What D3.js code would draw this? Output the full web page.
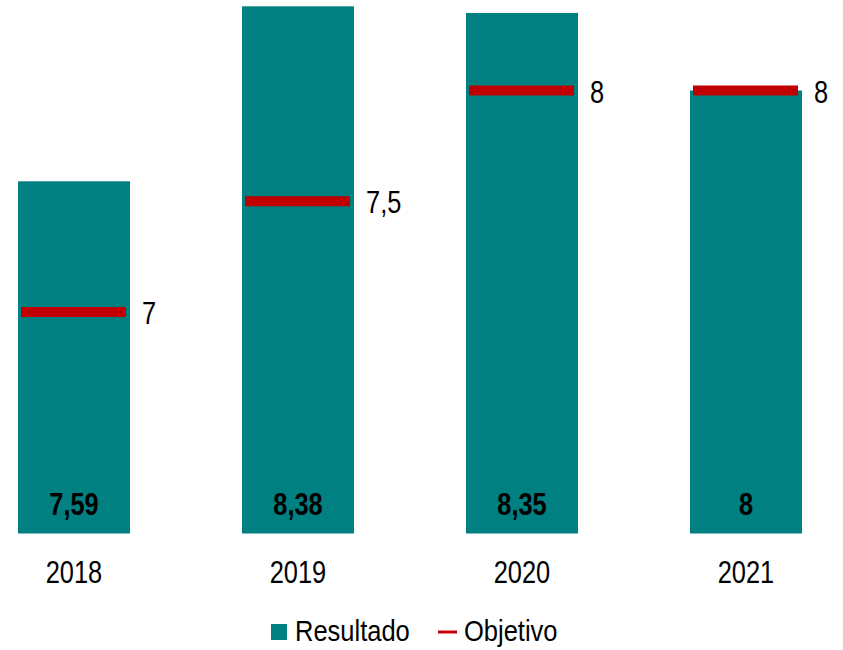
<!DOCTYPE html>
<html><head><meta charset="utf-8">
<script src="https://cdn.jsdelivr.net/npm/d3@7"></script>
<style>
html,body{margin:0;padding:0;background:#fff;}
text{font-family:"Liberation Sans Narrow","Arial Narrow","Liberation Sans",Arial,sans-serif;}
</style></head>
<body><svg id="c" width="843" height="650"></svg>
<script>
const years = ["2018","2019","2020","2021"];
const resultado = [7.59, 8.38, 8.35, 8];
const objetivo = [7, 7.5, 8, 8];
const resultadoLabels = ["7,59","8,38","8,35","8"];
const objetivoLabels = ["7","7,5","8","8"];
const legendLabels = ["Resultado","Objetivo"];

const svg = d3.select("#c");
const teal = "#008080", red = "#C00000";
const fs = 31, sx = 0.82;

const x = d3.scaleBand().domain(years).range([-38, 858]).paddingInner(0.5).paddingOuter(0.25);
const y = d3.scaleLinear().domain([6, 8.4]).range([533.5, 533.5 - 2.4 * 221.5]);

const data = years.map((yr, i) => ({yr, r: resultado[i], o: objetivo[i], rl: resultadoLabels[i], ol: objetivoLabels[i]}));

svg.selectAll("rect.bar").data(data).join("rect").attr("class","bar")
  .attr("x", d => x(d.yr)).attr("width", x.bandwidth())
  .attr("y", d => y(d.r)).attr("height", d => y(6) - y(d.r))
  .attr("fill", teal);

svg.selectAll("line.obj").data(data).join("line").attr("class","obj")
  .attr("x1", d => x(d.yr) + 3).attr("x2", d => x(d.yr) + x.bandwidth() - 4)
  .attr("y1", d => y(d.o)).attr("y2", d => y(d.o))
  .attr("stroke", red).attr("stroke-width", 10);

const tr = (px, py, s) => `translate(${px},${py}) scale(${s || sx},1)`;

svg.selectAll("text.ol").data(data).join("text").attr("class","ol")
  .attr("transform", d => tr(x(d.yr) + x.bandwidth() + 12, y(d.o) + 12))
  .attr("font-size", fs).attr("fill", "#000").text(d => d.ol);

svg.selectAll("text.rl").data(data).join("text").attr("class","rl")
  .attr("transform", d => tr(x(d.yr) + x.bandwidth()/2, 515))
  .attr("text-anchor","middle").attr("font-weight","bold")
  .attr("font-size", fs).attr("fill", "#000").text(d => d.rl);

svg.selectAll("text.yr").data(data).join("text").attr("class","yr")
  .attr("transform", d => tr(x(d.yr) + x.bandwidth()/2, 583))
  .attr("text-anchor","middle")
  .attr("font-size", fs).attr("fill", "#000").text(d => d.yr);

// legend
const lg = svg.append("g");
lg.append("rect").attr("x", 271).attr("y", 624).attr("width", 16).attr("height", 16).attr("fill", teal);
lg.append("text").attr("transform", tr(295, 641, 0.85)).attr("font-size", 30).text(legendLabels[0]);
lg.append("line").attr("x1", 438).attr("x2", 457).attr("y1", 632).attr("y2", 632).attr("stroke", red).attr("stroke-width", 3);
lg.append("text").attr("transform", tr(464, 641, 0.85)).attr("font-size", 30).text(legendLabels[1]);
</script></body></html>
